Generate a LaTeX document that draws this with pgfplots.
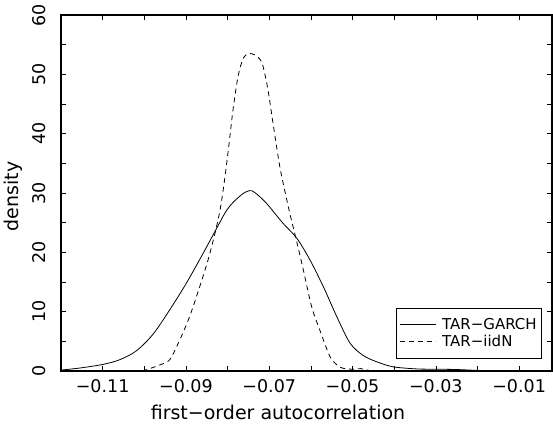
\documentclass[border=0pt]{standalone}
\usepackage{pgfplots}
\pgfplotsset{compat=1.18}
\usepackage{fontspec}
\setmainfont{DejaVu Sans}

\begin{document}
\fontsize{17.5}{21}\selectfont
\begin{tikzpicture}
\begin{axis}[
  scale only axis,
  width=491pt, height=356pt,
  xmin=-0.12, xmax=-0.0021,
  ymin=0, ymax=60,
  axis line style={line width=1.8pt},
  tick align=inside,
  tick style={black, line width=0.6pt},
  major tick length=5pt, minor tick length=5pt,
  xtick={-0.11,-0.09,-0.07,-0.05,-0.03,-0.01},
  xticklabels={−0.11,−0.09,−0.07,−0.05,−0.03,−0.01},
  minor xtick={-0.12,-0.10,-0.08,-0.06,-0.04,-0.02},
  ytick={0,10,20,30,40,50,60},
  yticklabels={0,10,20,30,40,50,60},
  minor ytick={5,15,25,35,45,55},
  xticklabel style={anchor=north, yshift=-2pt, font=\fontsize{17.5}{21}\selectfont},
  yticklabel style={rotate=90, anchor=south, font=\fontsize{17.5}{21}\selectfont},
  yticklabel shift=9pt,
  xlabel={first−order autocorrelation},
  ylabel={density},
  xlabel style={at={(axis description cs:0.442,-0.1376)}, anchor=base, font=\fontsize{19}{22}\selectfont},
  ylabel style={at={(axis description cs:-0.0978,0.49)}, anchor=center, font=\fontsize{19}{22}\selectfont},
  legend style={at={(axis description cs:0.9796,0.0337)}, anchor=south east,
    draw=black, line width=0.6pt, font=\fontsize{15}{18}\selectfont,
    inner xsep=3pt, inner ysep=8pt, row sep=-1pt},
  legend cell align=left,
  legend image code/.code={\draw[#1, line width=0.8pt] (0pt,0pt) -- (36pt,0pt);},
]
\addplot[black, line width=0.8pt, smooth] coordinates {
  (-0.1200, 0.15)
  (-0.1155, 0.5)
  (-0.1100, 1.1)
  (-0.1059, 1.9)
  (-0.1019, 3.4)
  (-0.0979, 6.2)
  (-0.0939, 10.3)
  (-0.0899, 14.8)
  (-0.0859, 19.8)
  (-0.0819, 25.0)
  (-0.0803, 27.0)
  (-0.0787, 28.4)
  (-0.0763, 29.9)
  (-0.0747, 30.4)
  (-0.0735, 30.1)
  (-0.0707, 28.3)
  (-0.0667, 24.9)
  (-0.0634, 22.4)
  (-0.0602, 18.7)
  (-0.0570, 14.2)
  (-0.0538, 9.2)
  (-0.0506, 4.7)
  (-0.0474, 2.6)
  (-0.0440, 1.5)
  (-0.0402, 0.7)
  (-0.0346, 0.35)
  (-0.0300, 0.3)
  (-0.0250, 0.25)
  (-0.0200, 0.1)
  (-0.0150, 0.02)
  (-0.0021, 0.0)
};
\addlegendentry{\hspace{4pt}TAR−GARCH}
\addplot[black, line width=0.8pt, dash pattern=on 5pt off 4pt, smooth] coordinates {
  (-0.1005, 0.0)
  (-0.0987, 0.4)
  (-0.0960, 1.1)
  (-0.0939, 1.9)
  (-0.0915, 5.2)
  (-0.0891, 9.2)
  (-0.0867, 14.2)
  (-0.0847, 18.7)
  (-0.0831, 23.0)
  (-0.0819, 26.8)
  (-0.0811, 30.3)
  (-0.0803, 34.5)
  (-0.0795, 39.2)
  (-0.0787, 44.0)
  (-0.0775, 49.6)
  (-0.0763, 52.6)
  (-0.0750, 53.5)
  (-0.0735, 53.3)
  (-0.0723, 52.6)
  (-0.0715, 51.4)
  (-0.0703, 47.4)
  (-0.0691, 41.8)
  (-0.0675, 34.6)
  (-0.0663, 30.5)
  (-0.0650, 26.4)
  (-0.0634, 21.8)
  (-0.0618, 17.0)
  (-0.0598, 10.8)
  (-0.0578, 6.8)
  (-0.0554, 2.4)
  (-0.0535, 0.9)
  (-0.0522, 0.45)
  (-0.0500, 0.3)
  (-0.0480, 0.4)
  (-0.0460, 0.1)
  (-0.0440, 0.0)
};
\addlegendentry{\hspace{4pt}TAR−iidN}
\end{axis}
\pgfresetboundingbox
\path (-61pt,-54pt) rectangle (492pt,371pt);
\end{tikzpicture}
\end{document}
